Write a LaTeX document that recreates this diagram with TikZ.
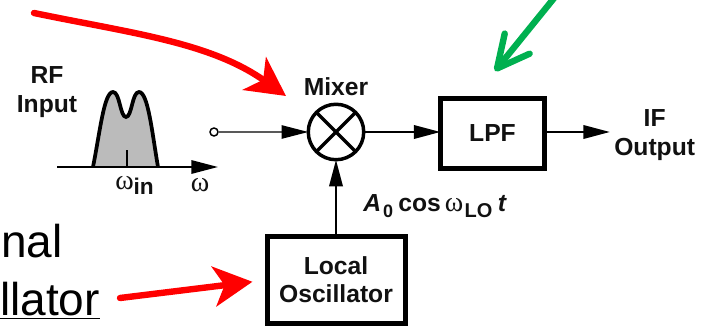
\documentclass[tikz,border=0pt]{standalone}
\usepackage{fontspec}
\setmainfont{Liberation Sans}
\newfontfamily\greekfont{Liberation Serif}
\usetikzlibrary{arrows.meta}
\definecolor{cred}{HTML}{FF0000}
\definecolor{cgreen}{HTML}{00B050}
\definecolor{cspec}{HTML}{BBBBBB}
\definecolor{cink}{HTML}{111111}
\tikzset{
    blk/.style={draw=black, line width=3.75pt, inner sep=0pt, outer sep=0pt, align=center, font=\fontsize{18.5}{21}\selectfont\bfseries\color{cink}},
    lab/.style={inner sep=0pt, align=center, font=\fontsize{18.5}{21.5}\selectfont\bfseries\color{cink}},
    sig/.style={draw=black, line width=1.9pt, -{Triangle[length=20pt,width=10pt]}},
    callout/.style={draw=cred, line width=4.8pt, line cap=round, -{Stealth[length=29pt,width=30pt,inset=8pt]}},
    slide/.style={inner sep=0pt, font=\fontsize{34.5}{40}\selectfont\color{black}}
}
\begin{document}
\begin{tikzpicture}[x=0.75pt, y=-0.75pt]
    \useasboundingbox (0,0) rectangle (701,334);
    \clip (0,0) rectangle (701,334);
    % spectrum
    \fill[cspec] (93,167) .. controls (100,132) and (104,92) .. (113,92) .. controls (120,92) and (120,117) .. (126,117) .. controls (132,117) and (132,92) .. (139,92) .. controls (148,92) and (152,132) .. (158,167) -- cycle;
    \draw[black, line width=2.8pt] (93,167) .. controls (100,132) and (104,92) .. (113,92) .. controls (120,92) and (120,117) .. (126,117) .. controls (132,117) and (132,92) .. (139,92) .. controls (148,92) and (152,132) .. (158,167);
    \coordinate (axl) at (57,167);
    \coordinate (axr) at (218,167);
    \coordinate (tickb) at (127,167);
    \coordinate (tickt) at (127,150);
    \draw[black, line width=1.6pt] (tickb) -- (tickt);
    \draw[black, line width=1.6pt, -{Triangle[length=20pt,width=10pt]}] (axl) -- (axr);
    \node (win) [inner sep=0pt, anchor=base west, font=\fontsize{21}{24}\selectfont\color{cink}] at (115,190) {{\greekfont ω}\raisebox{-3.5pt}{\fontsize{17}{20}\selectfont\bfseries in}};
    \node (wax) [inner sep=0pt, anchor=base, font=\fontsize{21}{24}\selectfont\color{cink}] at (200,192) {\greekfont ω};
    \node (rf) [lab] at (47,92) {RF\\Input};
    % blocks
    \node (src) [circle, draw=black, line width=1.1pt, fill=white, minimum size=6pt, inner sep=0pt] at (214,132) {};
    \node (mixer) [circle, draw=black, line width=2.6pt, fill=white, minimum size=41.6pt, inner sep=0pt, outer sep=0pt] at (336,132) {};
    \draw[black, line width=2.4pt] (mixer.45) -- (mixer.225);
    \draw[black, line width=2.4pt] (mixer.135) -- (mixer.315);
    \node (mixlab) [lab] at (336,87) {Mixer};
    \node (lpf) [blk, minimum width=78pt, minimum height=52.5pt] at (492.5,133.5) {LPF};
    \node (lo) [blk, minimum width=103.5pt, minimum height=65pt] at (336,280) {Local\\Oscillator};
    \node (ifout) [lab, anchor=west] at (614,135) {IF\\Output};
    \coordinate (ifin) at (610,132);
    \node (lomix) [inner sep=0pt, anchor=base west, font=\fontsize{18.5}{21}\selectfont\color{cink}] at (363,212) {\textbf{\textit{A}}\hspace{1.5pt}\raisebox{-4pt}{\fontsize{13.5}{16}\selectfont\bfseries 0}\hspace{4pt}\textbf{cos}\hspace{3pt}{\fontsize{21}{24}\selectfont\greekfont ω}\hspace{1pt}\raisebox{-4pt}{\fontsize{15}{18}\selectfont\bfseries LO}\hspace{4pt}\textbf{\textit{t}}};
    \draw[sig, draw=black!65, line width=1.1pt, {}-{Triangle[length=20pt,width=10pt,color=black]}] (src) -- (mixer);
    \draw[sig] (mixer) -- (mixer -| lpf.west);
    \draw[sig] (lpf.east |- ifin) -- (ifin);
    \draw[sig] (lo) -- (mixer);
    % slide text
    \node (nal) [slide, anchor=base east] at (63,258) {nal};
    \node (llator) [slide, anchor=base east] at (100,316) {\underline{llator}};
    % callouts
    \coordinate (r1a) at (34,13);
    \coordinate (r1b) at (286,96);
    \coordinate (r2a) at (120,298);
    \coordinate (g1a) at (559,-8);
    \coordinate (g1b) at (495,71);
    \draw[callout] (r1a) .. controls (130,33) and (210,42) .. (r1b);
    \draw[callout, shorten >=11pt] (r2a) -- (lo.west);
    \draw[draw=cgreen, line width=4.8pt, line cap=round, -{Straight Barb[length=24pt,width=24pt,line width=4.8pt,round]}] (g1a) -- (g1b);
\end{tikzpicture}
\end{document}
